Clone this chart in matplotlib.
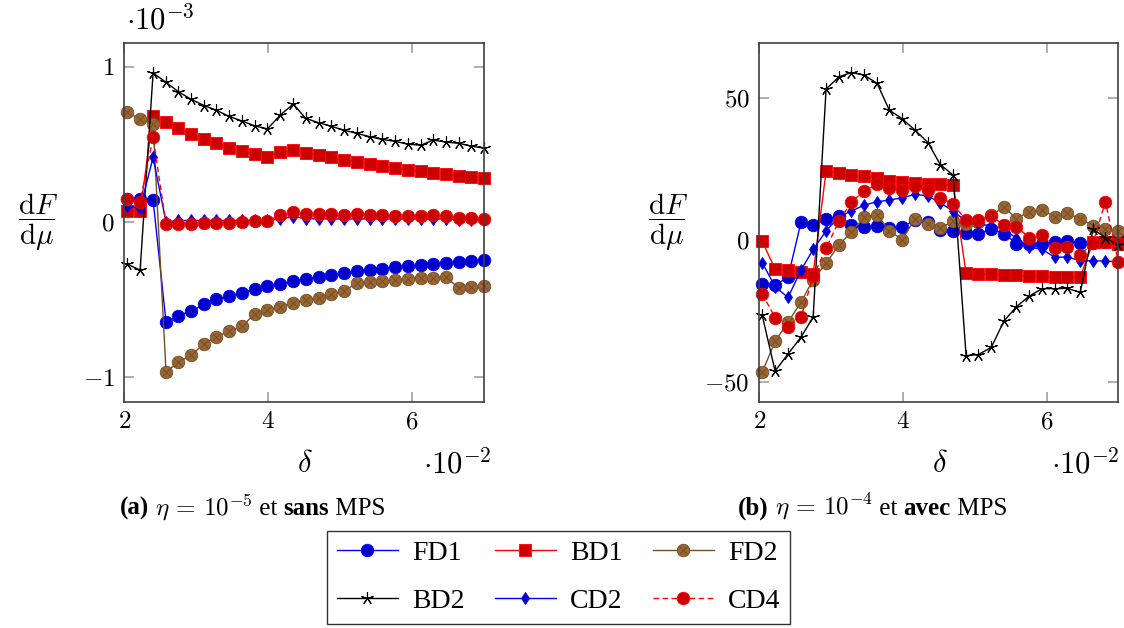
import matplotlib
matplotlib.use('Agg')
import matplotlib.pyplot as plt
from matplotlib.legend_handler import HandlerTuple

plt.rcParams['mathtext.fontset'] = 'cm'
plt.rcParams['font.family'] = ['Liberation Serif', 'DejaVu Serif']

# ---------------- data ----------------
# delta values (in units of 1e-2)
delta = [2.04, 2.22, 2.40, 2.58, 2.75, 2.93, 3.11, 3.28, 3.46, 3.64, 3.81, 3.99,
         4.17, 4.35, 4.52, 4.70, 4.88, 5.05, 5.23, 5.41, 5.58, 5.76, 5.94, 6.12,
         6.29, 6.47, 6.65, 6.82, 7.00]

# panel (a): eta = 1e-5, sans MPS  (values in units of 1e-3)
a_FD1 = [0.146, 0.150, 0.142, -0.644, -0.603, -0.573, -0.530, -0.498, -0.476, -0.455,
         -0.433, -0.414, -0.399, -0.380, -0.368, -0.355, -0.343, -0.330, -0.318, -0.309,
         -0.300, -0.292, -0.286, -0.277, -0.268, -0.262, -0.255, -0.251, -0.245]
a_BD1 = [0.069, 0.069, 0.685, 0.646, 0.603, 0.565, 0.532, 0.507, 0.478, 0.455,
         0.436, 0.416, 0.451, 0.462, 0.444, 0.431, 0.416, 0.399, 0.386, 0.371,
         0.360, 0.348, 0.335, 0.326, 0.318, 0.307, 0.299, 0.292, 0.281]
a_FD2 = [0.706, 0.663, 0.629, -0.966, -0.903, -0.856, -0.786, -0.738, -0.704, -0.670,
         -0.592, -0.567, -0.545, -0.520, -0.502, -0.486, -0.466, -0.444, -0.395, -0.388,
         -0.382, -0.373, -0.369, -0.363, -0.359, -0.352, -0.427, -0.420, -0.410]
a_BD2 = [-0.27, -0.31, 0.96, 0.90, 0.84, 0.79, 0.75, 0.72, 0.68, 0.65,
         0.62, 0.60, 0.69, 0.76, 0.668, 0.64, 0.616, 0.592, 0.571, 0.550,
         0.532, 0.520, 0.502, 0.494, 0.528, 0.515, 0.507, 0.489, 0.476]
a_CD2 = [0.105, 0.088, 0.416, 0.000, 0.010, 0.010, 0.010, 0.010, 0.010, 0.010,
         0.010, 0.010, 0.020, 0.035, 0.022, 0.020, 0.020, 0.020, 0.020, 0.020,
         0.020, 0.020, 0.020, 0.020, 0.020, 0.020, 0.015, 0.015, 0.015]
a_CD4 = [0.146, 0.131, 0.545, -0.013, -0.010, -0.010, -0.005, -0.005, -0.005, 0.000,
         0.006, 0.006, 0.045, 0.062, 0.052, 0.050, 0.050, 0.048, 0.050, 0.046,
         0.043, 0.041, 0.040, 0.040, 0.045, 0.041, 0.024, 0.024, 0.021]

# panel (b): eta = 1e-4, avec MPS
b_FD1 = [-15.6, -15.9, -13.2, 6.1, 5.2, 7.2, 8.5, 5.2, 4.6, 4.7,
         4.0, 4.5, 7.0, 6.1, 3.5, 3.0, 2.5, 2.0, 3.8, 2.2,
         -1.3, -1.3, -1.3, -0.7, -0.5, -1.0, -1.0, -0.7, 0.5]
b_BD1 = [-0.5, -10.3, -10.7, -11.3, -12.1, 24.2, 23.5, 22.8, 22.3, 21.9,
         20.6, 20.2, 19.9, 19.7, 19.5, 19.3, -11.8, -12.1, -12.2, -12.3,
         -12.5, -12.7, -12.9, -13.0, -13.1, -13.1, -0.7, -0.7, -1.3]
b_FD2 = [-46.6, -35.8, -29.0, -22.0, -14.0, -8.3, -1.8, 2.7, 7.9, 8.9,
         3.2, 0.1, 7.5, 5.5, 4.0, 6.7, 5.5, 6.2, 8.8, 11.4,
         7.5, 9.9, 10.5, 8.1, 9.5, 7.3, 5.0, 3.7, 3.0]
b_BD2 = [-26.5, -46.2, -40.2, -34.3, -27.2, 53.1, 57.4, 58.9, 58.0, 55.1,
         45.7, 42.6, 38.6, 34.2, 26.5, 22.8, -40.8, -40.4, -37.9, -28.5,
         -23.6, -19.8, -17.2, -17.2, -17.1, -18.5, 3.7, 0.8, -1.9]
b_CD2 = [-8.0, -16.5, -20.3, -10.7, -3.4, 3.1, 8.1, 10.1, 12.2, 13.4,
         14.0, 14.8, 16.0, 15.4, 13.0, 10.1, 6.5, 5.5, 5.0, 3.8,
         0.5, -2.5, -3.4, -6.2, -6.0, -7.4, -7.4, -7.5, -7.7]
b_CD4 = [-19.0, -27.4, -30.6, -27.3, -12.9, -3.0, 6.6, 13.2, 17.3, 19.5,
         18.1, 17.5, 19.0, 17.7, 14.8, 12.5, 6.9, 6.9, 8.3, 5.2,
         4.6, 0.8, 1.7, -2.8, -2.5, -5.2, -1.0, 13.4, -7.7]

labels = ['FD1', 'BD1', 'FD2', 'BD2', 'CD2', 'CD4']

# ---------------- styles ----------------
BLUE, BLUEF = '#0000FF', '#0000CC'
RED, REDF = '#FF0000', '#CC0000'
BROWN, BROWNF = '#734D26', '#996633'

W, H = 1124, 628
fig = plt.figure(figsize=(W / 100, H / 100), dpi=100)


def ax_at(x0, y0, x1, y1):
    return fig.add_axes([x0 / W, 1 - y1 / H, (x1 - x0) / W, (y1 - y0) / H])


def draw(ax, fd1, bd1, fd2, bd2, cd2, cd4):
    hs = []
    h, = ax.plot(delta, fd1, color=BLUE, lw=1.0, marker='o', ms=9, mfc=BLUEF,
                 mec=BLUE, mew=0.6, clip_on=False)
    hs.append(h)
    h, = ax.plot(delta, bd1, color=RED, lw=1.0, marker='s', ms=9, mfc=REDF,
                 mec=RED, mew=0.6, clip_on=False)
    hs.append(h)
    h1, = ax.plot(delta, fd2, color=BROWN, lw=1.0, marker='o', ms=9, mfc=BROWNF,
                  mec=BROWN, mew=0.6, clip_on=False)
    h2, = ax.plot(delta, fd2, color=BROWN, lw=0, marker='x', ms=5.8, mew=0.7,
                  clip_on=False)
    hs.append((h1, h2))
    h, = ax.plot(delta, bd2, color='black', lw=1.0, marker=(5, 2, 0), ms=9,
                 mew=0.8, clip_on=False)
    hs.append(h)
    h, = ax.plot(delta, cd2, color=BLUE, lw=1.0, marker='d', ms=6, mfc=BLUEF,
                 mec=BLUE, mew=0.6, clip_on=False)
    hs.append(h)
    h, = ax.plot(delta, cd4, color=RED, lw=1.0, dashes=(4, 2.5), marker='o', ms=9,
                 mfc=REDF, mec=RED, mew=0.6, clip_on=False)
    hs.append(h)
    return hs


def style(ax, yt, ytl):
    ax.set_xlim(2, 7)
    ax.set_xticks([2, 4, 6])
    ax.set_xticklabels(['$2$', '$4$', '$6$'])
    ax.set_yticks(yt)
    ax.set_yticklabels(ytl)
    ax.tick_params(direction='in', top=True, right=True, length=7, width=1.2,
                   color='#A0A0A0', labelsize=18, pad=7)
    for s in ax.spines.values():
        s.set_color('#404040')
        s.set_linewidth(1.2)


axA = ax_at(124.3, 42.7, 484, 401.7)
axB = ax_at(759.3, 42.7, 1118.3, 401.7)

hA = draw(axA, a_FD1, a_BD1, a_FD2, a_BD2, a_CD2, a_CD4)
draw(axB, b_FD1, b_BD1, b_FD2, b_BD2, b_CD2, b_CD4)

style(axA, [-1, 0, 1], ['$-1$', '$0$', '$1$'])
axA.set_ylim(-1.157, 1.155)
style(axB, [-50, 0, 50], ['$-50$', '$0$', '$50$'])
axB.set_ylim(-57.0, 69.4)

# axis labels and scale factors
for xc, dx in [(38, 305), (668, 940)]:
    fig.text(xc / W, 1 - 222 / H, r'$\dfrac{\mathrm{d}F}{\mathrm{d}\mu}$', fontsize=21,
             ha='center', va='center')
    fig.text(dx / W, 1 - 465 / H, r'$\delta$', fontsize=22, ha='center', va='center')
fig.text(457 / W, 1 - 465 / H, r'$\cdot10^{-2}$', fontsize=22, ha='center', va='center')
fig.text(1085 / W, 1 - 465 / H, r'$\cdot10^{-2}$', fontsize=22, ha='center', va='center')
fig.text(160 / W, 1 - 21 / H, r'$\cdot10^{-3}$', fontsize=22, ha='center', va='center')


# captions built from pieces on a common baseline
def make_caption(x0, base, pieces):
    renderer = fig.canvas.get_renderer()
    x = x0
    for txt, kw in pieces:
        t = fig.text(x / W, 1 - base / H, txt, va='baseline', ha='left',
                     fontsize=18, **kw)
        bb = t.get_window_extent(renderer=renderer)
        x = bb.x1


fig.canvas.draw()
make_caption(120, 515, [('(a)', dict(weight='bold')),
                        (r' $\eta\,=\,10^{-5}$', {}),
                        (' et ', {}),
                        ('sans', dict(weight='bold')),
                        (' MPS', {})])
make_caption(738, 515, [('(b)', dict(weight='bold')),
                        (r' $\eta\,=\,10^{-4}$', {}),
                        (' et ', {}),
                        ('avec', dict(weight='bold')),
                        (' MPS', {})])

# legend (row-wise order)
order = [0, 3, 1, 4, 2, 5]
leg = fig.legend([hA[i] for i in order], [labels[i] for i in order], ncol=3,
                 loc='upper center', bbox_to_anchor=(558.5 / W, 1 - 531 / H),
                 borderaxespad=0.0,
                 fontsize=20, frameon=True, fancybox=False, edgecolor='black',
                 handlelength=2.2, columnspacing=1.1, handletextpad=0.5,
                 borderpad=0.35, labelspacing=0.8,
                 handler_map={tuple: HandlerTuple(ndivide=1)})
leg.get_frame().set_linewidth(1.0)

fig.savefig('out.png', dpi=100)
